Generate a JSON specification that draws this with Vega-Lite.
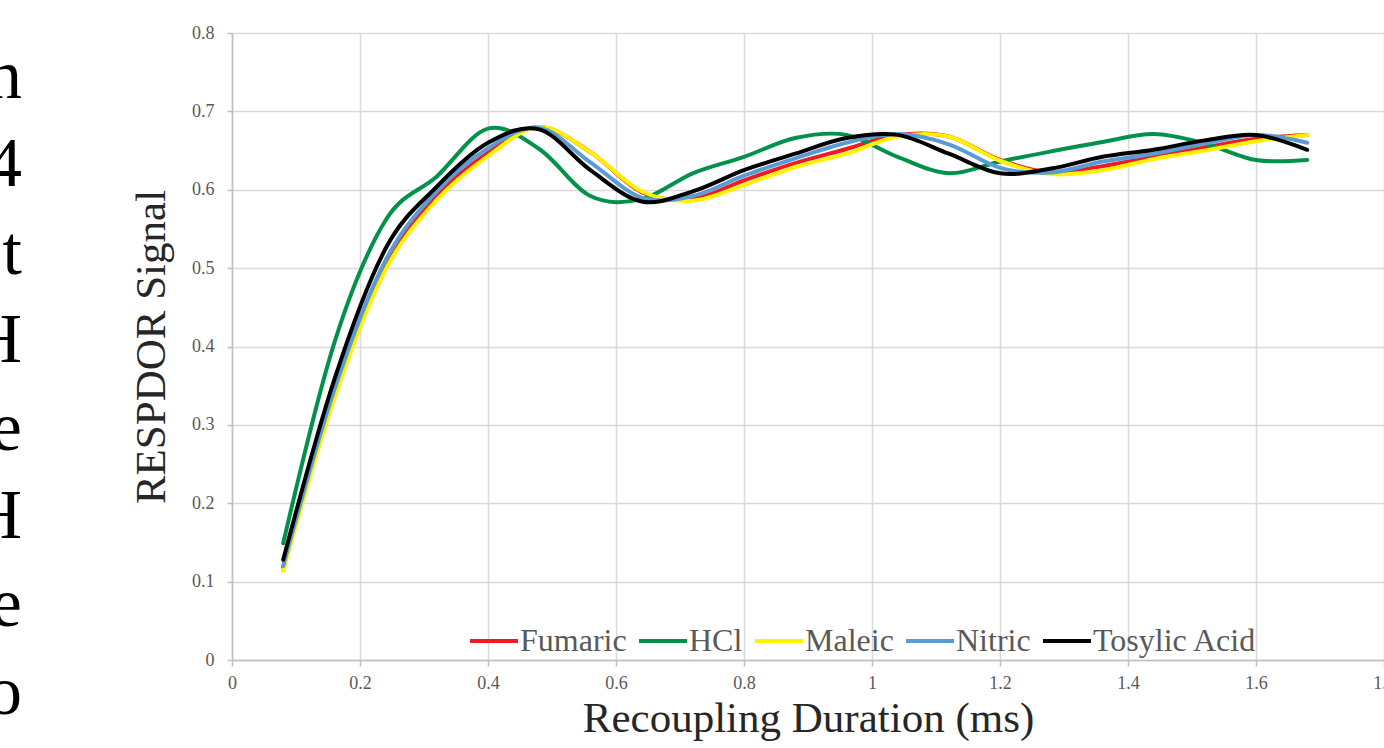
{
  "$schema": "https://vega.github.io/schema/vega-lite/v6.json",
  "width": 1152,
  "height": 627,
  "autosize": {"type": "none"},
  "padding": {"left": 232, "top": 33, "right": 0, "bottom": 88},
  "background": "white",
  "title": {
    "text": ["n", "4", "t", "H", "e", "H", "e", "o"],
    "orient": "left",
    "anchor": "end",
    "angle": 0,
    "align": "right",
    "baseline": "alphabetic",
    "font": "Liberation Serif",
    "fontSize": 70,
    "fontWeight": "normal",
    "lineHeight": 88,
    "color": "#000000",
    "offset": 58,
    "dy": 74
  },
  "config": {"view": {"stroke": null}, "font": "Liberation Serif"},
  "data": {
    "values": [
      {"acid": "Fumaric", "t": 0.08, "signal": 0.118},
      {"acid": "Fumaric", "t": 0.16, "signal": 0.340},
      {"acid": "Fumaric", "t": 0.24, "signal": 0.503},
      {"acid": "Fumaric", "t": 0.32, "signal": 0.592},
      {"acid": "Fumaric", "t": 0.40, "signal": 0.647},
      {"acid": "Fumaric", "t": 0.48, "signal": 0.680},
      {"acid": "Fumaric", "t": 0.56, "signal": 0.648},
      {"acid": "Fumaric", "t": 0.64, "signal": 0.597},
      {"acid": "Fumaric", "t": 0.72, "signal": 0.588},
      {"acid": "Fumaric", "t": 0.80, "signal": 0.612},
      {"acid": "Fumaric", "t": 0.88, "signal": 0.634},
      {"acid": "Fumaric", "t": 0.96, "signal": 0.652},
      {"acid": "Fumaric", "t": 1.04, "signal": 0.670},
      {"acid": "Fumaric", "t": 1.12, "signal": 0.668},
      {"acid": "Fumaric", "t": 1.20, "signal": 0.638},
      {"acid": "Fumaric", "t": 1.28, "signal": 0.622},
      {"acid": "Fumaric", "t": 1.36, "signal": 0.630},
      {"acid": "Fumaric", "t": 1.44, "signal": 0.642},
      {"acid": "Fumaric", "t": 1.52, "signal": 0.654},
      {"acid": "Fumaric", "t": 1.60, "signal": 0.665},
      {"acid": "Fumaric", "t": 1.68, "signal": 0.670},
      {"acid": "HCl", "t": 0.08, "signal": 0.149},
      {"acid": "HCl", "t": 0.16, "signal": 0.405},
      {"acid": "HCl", "t": 0.24, "signal": 0.561},
      {"acid": "HCl", "t": 0.32, "signal": 0.617},
      {"acid": "HCl", "t": 0.40, "signal": 0.678},
      {"acid": "HCl", "t": 0.48, "signal": 0.652},
      {"acid": "HCl", "t": 0.56, "signal": 0.592},
      {"acid": "HCl", "t": 0.64, "signal": 0.588},
      {"acid": "HCl", "t": 0.72, "signal": 0.621},
      {"acid": "HCl", "t": 0.80, "signal": 0.642},
      {"acid": "HCl", "t": 0.88, "signal": 0.666},
      {"acid": "HCl", "t": 0.96, "signal": 0.670},
      {"acid": "HCl", "t": 1.04, "signal": 0.642},
      {"acid": "HCl", "t": 1.12, "signal": 0.621},
      {"acid": "HCl", "t": 1.20, "signal": 0.636},
      {"acid": "HCl", "t": 1.28, "signal": 0.649},
      {"acid": "HCl", "t": 1.36, "signal": 0.661},
      {"acid": "HCl", "t": 1.44, "signal": 0.671},
      {"acid": "HCl", "t": 1.52, "signal": 0.659},
      {"acid": "HCl", "t": 1.60, "signal": 0.638},
      {"acid": "HCl", "t": 1.68, "signal": 0.638},
      {"acid": "Maleic", "t": 0.08, "signal": 0.114},
      {"acid": "Maleic", "t": 0.16, "signal": 0.334},
      {"acid": "Maleic", "t": 0.24, "signal": 0.498},
      {"acid": "Maleic", "t": 0.32, "signal": 0.587},
      {"acid": "Maleic", "t": 0.40, "signal": 0.643},
      {"acid": "Maleic", "t": 0.48, "signal": 0.680},
      {"acid": "Maleic", "t": 0.56, "signal": 0.648},
      {"acid": "Maleic", "t": 0.64, "signal": 0.598},
      {"acid": "Maleic", "t": 0.72, "signal": 0.586},
      {"acid": "Maleic", "t": 0.80, "signal": 0.606},
      {"acid": "Maleic", "t": 0.88, "signal": 0.629},
      {"acid": "Maleic", "t": 0.96, "signal": 0.646},
      {"acid": "Maleic", "t": 1.04, "signal": 0.668},
      {"acid": "Maleic", "t": 1.12, "signal": 0.668},
      {"acid": "Maleic", "t": 1.20, "signal": 0.637},
      {"acid": "Maleic", "t": 1.28, "signal": 0.620},
      {"acid": "Maleic", "t": 1.36, "signal": 0.625},
      {"acid": "Maleic", "t": 1.44, "signal": 0.639},
      {"acid": "Maleic", "t": 1.52, "signal": 0.650},
      {"acid": "Maleic", "t": 1.60, "signal": 0.662},
      {"acid": "Maleic", "t": 1.68, "signal": 0.670},
      {"acid": "Nitric", "t": 0.08, "signal": 0.120},
      {"acid": "Nitric", "t": 0.16, "signal": 0.345},
      {"acid": "Nitric", "t": 0.24, "signal": 0.510},
      {"acid": "Nitric", "t": 0.32, "signal": 0.598},
      {"acid": "Nitric", "t": 0.40, "signal": 0.653},
      {"acid": "Nitric", "t": 0.48, "signal": 0.679},
      {"acid": "Nitric", "t": 0.56, "signal": 0.635},
      {"acid": "Nitric", "t": 0.64, "signal": 0.590},
      {"acid": "Nitric", "t": 0.72, "signal": 0.592},
      {"acid": "Nitric", "t": 0.80, "signal": 0.618},
      {"acid": "Nitric", "t": 0.88, "signal": 0.640},
      {"acid": "Nitric", "t": 0.96, "signal": 0.660},
      {"acid": "Nitric", "t": 1.04, "signal": 0.671},
      {"acid": "Nitric", "t": 1.12, "signal": 0.658},
      {"acid": "Nitric", "t": 1.20, "signal": 0.628},
      {"acid": "Nitric", "t": 1.28, "signal": 0.622},
      {"acid": "Nitric", "t": 1.36, "signal": 0.636},
      {"acid": "Nitric", "t": 1.44, "signal": 0.646},
      {"acid": "Nitric", "t": 1.52, "signal": 0.659},
      {"acid": "Nitric", "t": 1.60, "signal": 0.670},
      {"acid": "Nitric", "t": 1.68, "signal": 0.660},
      {"acid": "Tosylic Acid", "t": 0.08, "signal": 0.128},
      {"acid": "Tosylic Acid", "t": 0.16, "signal": 0.358},
      {"acid": "Tosylic Acid", "t": 0.24, "signal": 0.525},
      {"acid": "Tosylic Acid", "t": 0.32, "signal": 0.604},
      {"acid": "Tosylic Acid", "t": 0.40, "signal": 0.660},
      {"acid": "Tosylic Acid", "t": 0.48, "signal": 0.677},
      {"acid": "Tosylic Acid", "t": 0.56, "signal": 0.625},
      {"acid": "Tosylic Acid", "t": 0.64, "signal": 0.585},
      {"acid": "Tosylic Acid", "t": 0.72, "signal": 0.598},
      {"acid": "Tosylic Acid", "t": 0.80, "signal": 0.625},
      {"acid": "Tosylic Acid", "t": 0.88, "signal": 0.646},
      {"acid": "Tosylic Acid", "t": 0.96, "signal": 0.666},
      {"acid": "Tosylic Acid", "t": 1.04, "signal": 0.670},
      {"acid": "Tosylic Acid", "t": 1.12, "signal": 0.646},
      {"acid": "Tosylic Acid", "t": 1.20, "signal": 0.621},
      {"acid": "Tosylic Acid", "t": 1.28, "signal": 0.627},
      {"acid": "Tosylic Acid", "t": 1.36, "signal": 0.642},
      {"acid": "Tosylic Acid", "t": 1.44, "signal": 0.651},
      {"acid": "Tosylic Acid", "t": 1.52, "signal": 0.663},
      {"acid": "Tosylic Acid", "t": 1.60, "signal": 0.670},
      {"acid": "Tosylic Acid", "t": 1.68, "signal": 0.651}
    ]
  },
  "mark": {"type": "line", "interpolate": "cardinal", "strokeWidth": 4, "strokeCap": "round", "strokeJoin": "round"},
  "encoding": {
    "x": {
      "field": "t",
      "type": "quantitative",
      "scale": {"domain": [0, 1.8], "nice": false, "zero": false},
      "axis": {
        "values": [0, 0.2, 0.4, 0.6, 0.8, 1, 1.2, 1.4, 1.6, 1.8],
        "format": "~g",
        "grid": true,
        "gridColor": "#d9d9d9",
        "gridWidth": 1.5,
        "domainColor": "#bfbfbf",
        "domainWidth": 1.5,
        "tickColor": "#bfbfbf",
        "tickWidth": 1.5,
        "tickSize": 6,
        "labelFont": "Liberation Serif",
        "labelFontSize": 18,
        "labelColor": "#595959",
        "labelPadding": 8,
        "labelFlush": false,
        "labelOverlap": false,
        "title": "Recoupling Duration (ms)",
        "titleFont": "Liberation Serif",
        "titleFontSize": 43,
        "titleFontWeight": "normal",
        "titleColor": "#262626",
        "titlePadding": 5
      }
    },
    "y": {
      "field": "signal",
      "type": "quantitative",
      "scale": {"domain": [0, 0.8], "nice": false},
      "axis": {
        "values": [0, 0.1, 0.2, 0.3, 0.4, 0.5, 0.6, 0.7, 0.8],
        "format": "~g",
        "grid": true,
        "gridColor": "#d9d9d9",
        "gridWidth": 1.5,
        "domainColor": "#bfbfbf",
        "domainWidth": 1.5,
        "tickColor": "#bfbfbf",
        "tickWidth": 1.5,
        "tickSize": 5,
        "labelFont": "Liberation Serif",
        "labelFontSize": 18,
        "labelColor": "#595959",
        "labelPadding": 13,
        "labelFlush": false,
        "labelOverlap": false,
        "title": "RESPDOR Signal",
        "titleFont": "Liberation Serif",
        "titleFontSize": 43,
        "titleFontWeight": "normal",
        "titleColor": "#262626",
        "titlePadding": 18
      }
    },
    "color": {
      "field": "acid",
      "type": "nominal",
      "scale": {
        "domain": ["Fumaric", "HCl", "Maleic", "Nitric", "Tosylic Acid"],
        "range": ["#ed1c24", "#00924a", "#fff200", "#5b9bd5", "#000000"]
      },
      "legend": {
        "orient": "none",
        "legendX": 236,
        "legendY": 582,
        "direction": "horizontal",
        "title": null,
        "padding": 0,
        "symbolType": "stroke",
        "symbolSize": 2300,
        "symbolStrokeWidth": 4,
        "labelFont": "Liberation Serif",
        "labelFontSize": 32,
        "labelColor": "#595959",
        "labelOffset": 0,
        "labelLimit": 400,
        "columnPadding": 4
      }
    }
  }
}
